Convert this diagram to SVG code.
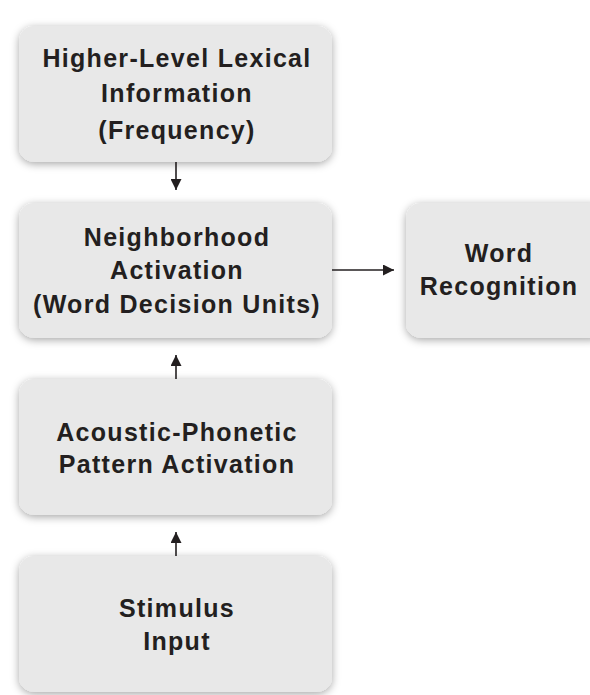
<svg xmlns="http://www.w3.org/2000/svg" width="590" height="695" viewBox="0 0 590 695">
<defs>
<filter id="sh" x="-10%" y="-10%" width="120%" height="125%">
<feDropShadow dx="0" dy="2" stdDeviation="4" flood-color="#000" flood-opacity="0.35"/>
</filter>
<marker id="ah" viewBox="0 0 10 10" refX="10" refY="5" markerWidth="11" markerHeight="11" markerUnits="userSpaceOnUse" orient="auto">
<path d="M0,0 L10,5 L0,10 z" fill="#231f20"/>
</marker>
</defs>
<style>
.box{fill:#e8e8e8;filter:url(#sh);}
.t{font-family:"Liberation Sans",Arial,sans-serif;font-weight:bold;font-size:25px;letter-spacing:1.3px;fill:#231f20;text-anchor:middle;}
.c{stroke:#231f20;stroke-width:1.6;fill:none;marker-end:url(#ah);}
</style>
<rect width="590" height="695" fill="#ffffff"/>
<g id="n-lexical">
<rect class="box" x="19" y="26" width="313" height="136" rx="15"/>
<text class="t" x="177" y="67">Higher-Level Lexical</text>
<text class="t" x="177" y="102">Information</text>
<text class="t" x="177" y="139">(Frequency)</text>
</g>
<g id="n-neighborhood">
<rect class="box" x="19" y="203" width="313" height="135" rx="15"/>
<text class="t" x="177" y="246">Neighborhood</text>
<text class="t" x="177" y="279">Activation</text>
<text class="t" x="177" y="313">(Word Decision Units)</text>
</g>
<g id="n-recognition">
<rect class="box" x="406" y="203" width="200" height="135" rx="15"/>
<text class="t" x="499" y="262">Word</text>
<text class="t" x="499" y="295">Recognition</text>
</g>
<g id="n-acoustic">
<rect class="box" x="19" y="379" width="313" height="136" rx="15"/>
<text class="t" x="177" y="441">Acoustic-Phonetic</text>
<text class="t" x="177" y="473">Pattern Activation</text>
</g>
<g id="n-stimulus">
<rect class="box" x="19" y="556" width="313" height="136" rx="15"/>
<text class="t" x="177" y="617">Stimulus</text>
<text class="t" x="177" y="650">Input</text>
</g>
<g id="connectors">
<line class="c" x1="176" y1="162" x2="176" y2="190"/>
<line class="c" x1="176" y1="379" x2="176" y2="355"/>
<line class="c" x1="176" y1="556" x2="176" y2="532"/>
<line class="c" x1="332" y1="270" x2="394" y2="270"/>
</g>
</svg>
